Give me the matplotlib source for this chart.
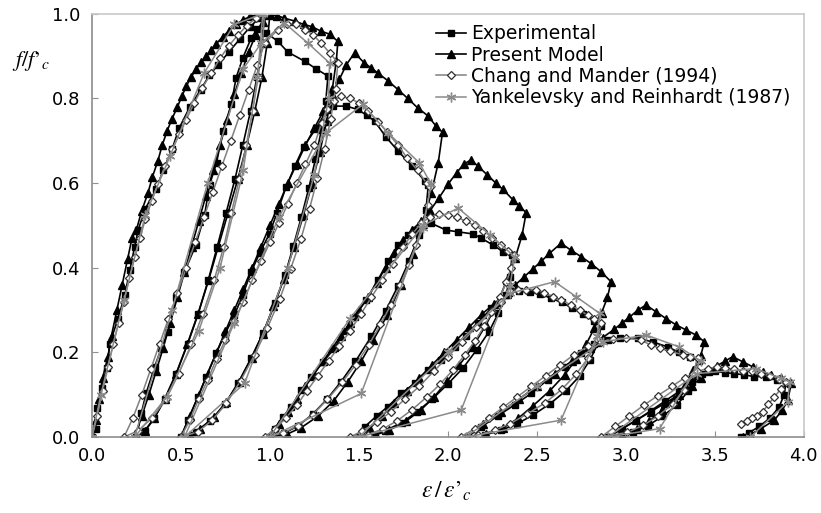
import matplotlib.pyplot as plt

plt.rcParams["font.family"] = ["DejaVu Sans"]
plt.rcParams["mathtext.fontset"] = "stix"

# (strain ratio, stress ratio) along each loading path
experimental = [
    (0.0, 0.0), (0.02, 0.02), (0.03, 0.068), (0.054, 0.115), (0.083, 0.163), (0.1, 0.22),
    (0.146, 0.28), (0.185, 0.335), (0.213, 0.395), (0.24, 0.45), (0.26, 0.49), (0.3, 0.54),
    (0.36, 0.585), (0.4, 0.63), (0.45, 0.68), (0.49, 0.73), (0.55, 0.78), (0.61, 0.82),
    (0.66, 0.855), (0.71, 0.88), (0.77, 0.91), (0.83, 0.94), (0.89, 0.97), (0.94, 0.99),
    (0.97, 1.0),
    (0.956, 0.93), (0.927, 0.85), (0.891, 0.77), (0.848, 0.69), (0.804, 0.61), (0.754, 0.53),
    (0.704, 0.45), (0.653, 0.37), (0.596, 0.29), (0.538, 0.22), (0.473, 0.15), (0.408, 0.09),
    (0.351, 0.045), (0.3, 0.015), (0.25, 0.0),
    (0.277, 0.056), (0.305, 0.104), (0.352, 0.166), (0.39, 0.21), (0.427, 0.249), (0.474, 0.332),
    (0.52, 0.39), (0.584, 0.454), (0.633, 0.525), (0.661, 0.596), (0.7, 0.648), (0.736, 0.723),
    (0.783, 0.786), (0.81, 0.849), (0.848, 0.896), (0.895, 0.943), (0.93, 0.965), (0.98, 0.955),
    (1.045, 0.935), (1.1, 0.91), (1.195, 0.888), (1.26, 0.87), (1.326, 0.853),
    (1.314, 0.793), (1.289, 0.725), (1.256, 0.657), (1.219, 0.589), (1.177, 0.52), (1.132, 0.452),
    (1.086, 0.384), (1.029, 0.316), (0.963, 0.247), (0.896, 0.188), (0.822, 0.128), (0.748, 0.077),
    (0.665, 0.038), (0.583, 0.013), (0.5, 0.0),
    (0.539, 0.04), (0.596, 0.095), (0.642, 0.143), (0.698, 0.198), (0.745, 0.241), (0.8, 0.288),
    (0.848, 0.336), (0.895, 0.391), (0.942, 0.434), (0.998, 0.481), (1.04, 0.53), (1.09, 0.59),
    (1.14, 0.64), (1.19, 0.686), (1.26, 0.73), (1.32, 0.773), (1.354, 0.782), (1.43, 0.782),
    (1.494, 0.774), (1.545, 0.76), (1.59, 0.746), (1.65, 0.71), (1.72, 0.676), (1.8, 0.64),
    (1.87, 0.605), (1.89, 0.596),
    (1.877, 0.536), (1.837, 0.477), (1.783, 0.417), (1.721, 0.358), (1.65, 0.298), (1.57, 0.238),
    (1.481, 0.179), (1.4, 0.131), (1.32, 0.089), (1.24, 0.054), (1.16, 0.027), (1.08, 0.009),
    (1.0, 0.0),
    (1.026, 0.02), (1.073, 0.048), (1.12, 0.07), (1.176, 0.111), (1.232, 0.143), (1.3, 0.178),
    (1.363, 0.21), (1.42, 0.25), (1.476, 0.284), (1.541, 0.324), (1.607, 0.371), (1.663, 0.415),
    (1.72, 0.454), (1.775, 0.478), (1.813, 0.489), (1.85, 0.501), (1.908, 0.505), (1.99, 0.489),
    (2.058, 0.485), (2.14, 0.48), (2.187, 0.47), (2.253, 0.454), (2.31, 0.438), (2.36, 0.43),
    (2.351, 0.378), (2.326, 0.335), (2.283, 0.292), (2.231, 0.249), (2.162, 0.206), (2.085, 0.163),
    (1.999, 0.125), (1.913, 0.09), (1.827, 0.06), (1.741, 0.034), (1.646, 0.015), (1.569, 0.004),
    (1.5, 0.0),
    (1.532, 0.024), (1.6, 0.05), (1.663, 0.072), (1.738, 0.103), (1.813, 0.127), (1.888, 0.158),
    (1.963, 0.182), (2.038, 0.213), (2.1, 0.24), (2.17, 0.27), (2.243, 0.304), (2.3, 0.325),
    (2.346, 0.34), (2.4, 0.345), (2.46, 0.343), (2.52, 0.338), (2.58, 0.328), (2.64, 0.318),
    (2.7, 0.305), (2.76, 0.29), (2.82, 0.275), (2.86, 0.262),
    (2.845, 0.223), (2.8, 0.183), (2.74, 0.144), (2.665, 0.11), (2.575, 0.079), (2.478, 0.052),
    (2.388, 0.031), (2.298, 0.016), (2.208, 0.005), (2.11, 0.0),
    (2.187, 0.024), (2.28, 0.05), (2.375, 0.076), (2.468, 0.103), (2.56, 0.135), (2.656, 0.166),
    (2.75, 0.198), (2.824, 0.221), (2.9, 0.23), (2.97, 0.233), (3.067, 0.233), (3.15, 0.225),
    (3.236, 0.213), (3.3, 0.2), (3.36, 0.19), (3.41, 0.18),
    (3.39, 0.144), (3.349, 0.108), (3.288, 0.076), (3.206, 0.049), (3.124, 0.027), (3.038, 0.011),
    (2.9, 0.0),
    (2.98, 0.02), (3.06, 0.04), (3.14, 0.062), (3.22, 0.085), (3.3, 0.108), (3.37, 0.13),
    (3.43, 0.148), (3.5, 0.155), (3.56, 0.152), (3.61, 0.15), (3.665, 0.147), (3.72, 0.143),
    (3.79, 0.143), (3.85, 0.136), (3.9, 0.128),
    (3.89, 0.1), (3.86, 0.07), (3.81, 0.045), (3.75, 0.025), (3.69, 0.01), (3.65, 0.0),
]

present_model = [
    (0.0, 0.0), (0.02, 0.04), (0.04, 0.09), (0.06, 0.14), (0.09, 0.19), (0.11, 0.24), (0.14, 0.3),
    (0.17, 0.36), (0.2, 0.42), (0.225, 0.47), (0.25, 0.49), (0.28, 0.535), (0.315, 0.577),
    (0.34, 0.615), (0.37, 0.652), (0.395, 0.69), (0.423, 0.724), (0.45, 0.752), (0.479, 0.779),
    (0.505, 0.805), (0.53, 0.829), (0.556, 0.85), (0.586, 0.87), (0.612, 0.886), (0.642, 0.9),
    (0.67, 0.915), (0.698, 0.929), (0.735, 0.946), (0.77, 0.96), (0.81, 0.975), (0.85, 0.986),
    (0.89, 0.994), (0.93, 0.999), (0.97, 1.0), (1.0, 1.0),
    (0.985, 0.93), (0.955, 0.85), (0.915, 0.77), (0.87, 0.69), (0.82, 0.61), (0.765, 0.53),
    (0.71, 0.45), (0.655, 0.37), (0.595, 0.29), (0.536, 0.22), (0.474, 0.15), (0.411, 0.09),
    (0.351, 0.045), (0.296, 0.015), (0.24, 0.0),
    (0.28, 0.05), (0.32, 0.1), (0.36, 0.155), (0.4, 0.21), (0.44, 0.27), (0.48, 0.33), (0.52, 0.39),
    (0.56, 0.45), (0.6, 0.51), (0.64, 0.57), (0.68, 0.63), (0.72, 0.69), (0.76, 0.75), (0.8, 0.81),
    (0.84, 0.86), (0.88, 0.91), (0.92, 0.95), (0.96, 0.98), (1.0, 0.997),
    (1.04, 0.996), (1.08, 0.99), (1.139, 0.983), (1.19, 0.975), (1.234, 0.97), (1.288, 0.959),
    (1.335, 0.952), (1.382, 0.935),
    (1.373, 0.888), (1.351, 0.823), (1.32, 0.748), (1.28, 0.673), (1.236, 0.598), (1.188, 0.524),
    (1.135, 0.449), (1.078, 0.374), (1.02, 0.309), (0.959, 0.243), (0.897, 0.187), (0.826, 0.131),
    (0.756, 0.084), (0.685, 0.047), (0.606, 0.019), (0.55, 0.005), (0.5, 0.0),
    (0.55, 0.05), (0.6, 0.1), (0.65, 0.15), (0.7, 0.2), (0.75, 0.25), (0.8, 0.3), (0.85, 0.35),
    (0.9, 0.4), (0.95, 0.45), (1.0, 0.5), (1.05, 0.55), (1.1, 0.6), (1.15, 0.645), (1.2, 0.69),
    (1.25, 0.73), (1.3, 0.77), (1.35, 0.81), (1.39, 0.845), (1.43, 0.88), (1.476, 0.908),
    (1.53, 0.884), (1.57, 0.872), (1.607, 0.86), (1.663, 0.842), (1.72, 0.821), (1.775, 0.8),
    (1.83, 0.778), (1.888, 0.759), (1.933, 0.735), (1.97, 0.72),
    (1.946, 0.648), (1.907, 0.576), (1.858, 0.504), (1.805, 0.432), (1.737, 0.36), (1.66, 0.288),
    (1.582, 0.23), (1.514, 0.18), (1.437, 0.13), (1.359, 0.086), (1.272, 0.05), (1.175, 0.022),
    (1.097, 0.007), (1.0, 0.0),
    (1.05, 0.03), (1.1, 0.06), (1.15, 0.09), (1.2, 0.12), (1.25, 0.15), (1.3, 0.18), (1.35, 0.21),
    (1.4, 0.24), (1.45, 0.27), (1.5, 0.3), (1.55, 0.33), (1.6, 0.365), (1.65, 0.4), (1.7, 0.435),
    (1.75, 0.465), (1.8, 0.49), (1.85, 0.51), (1.9, 0.535), (1.95, 0.565), (2.0, 0.597),
    (2.05, 0.625), (2.09, 0.645), (2.13, 0.655),
    (2.17, 0.64), (2.22, 0.62), (2.27, 0.6), (2.31, 0.585), (2.365, 0.561), (2.4, 0.547),
    (2.44, 0.53),
    (2.417, 0.477), (2.379, 0.424), (2.332, 0.371), (2.28, 0.318), (2.214, 0.265), (2.139, 0.212),
    (2.064, 0.17), (1.998, 0.133), (1.923, 0.095), (1.848, 0.064), (1.763, 0.037), (1.669, 0.016),
    (1.594, 0.005), (1.5, 0.0),
    (1.56, 0.02), (1.63, 0.05), (1.7, 0.08), (1.77, 0.11), (1.84, 0.14), (1.91, 0.17), (1.98, 0.2),
    (2.05, 0.23), (2.12, 0.26), (2.19, 0.29), (2.26, 0.315), (2.33, 0.338), (2.38, 0.36),
    (2.43, 0.379), (2.48, 0.398), (2.524, 0.415), (2.571, 0.434), (2.636, 0.458),
    (2.69, 0.442), (2.75, 0.426), (2.805, 0.41), (2.86, 0.391), (2.917, 0.367),
    (2.897, 0.33), (2.864, 0.294), (2.823, 0.257), (2.778, 0.22), (2.721, 0.184), (2.656, 0.147),
    (2.574, 0.11), (2.476, 0.073), (2.394, 0.044), (2.312, 0.022), (2.214, 0.007), (2.1, 0.0),
    (2.2, 0.03), (2.3, 0.06), (2.4, 0.09), (2.5, 0.12), (2.6, 0.15), (2.7, 0.18), (2.8, 0.21),
    (2.87, 0.235), (2.936, 0.255), (2.98, 0.27), (3.02, 0.283), (3.067, 0.3), (3.114, 0.312),
    (3.17, 0.296), (3.226, 0.28), (3.283, 0.265), (3.339, 0.253), (3.395, 0.241), (3.442, 0.225),
    (3.42, 0.191), (3.38, 0.158), (3.334, 0.124), (3.269, 0.09), (3.204, 0.063), (3.133, 0.038),
    (3.063, 0.018), (2.976, 0.005), (2.9, 0.0),
    (2.98, 0.02), (3.06, 0.04), (3.14, 0.06), (3.22, 0.08), (3.3, 0.1), (3.37, 0.12), (3.42, 0.14),
    (3.46, 0.155), (3.51, 0.168), (3.56, 0.18), (3.6, 0.19),
    (3.657, 0.178), (3.713, 0.166), (3.77, 0.154), (3.816, 0.147), (3.87, 0.139), (3.93, 0.127),
    (3.91, 0.087), (3.88, 0.064), (3.835, 0.04), (3.76, 0.02), (3.7, 0.006), (3.657, 0.0),
]

chang_mander = [
    (0.0, 0.0), (0.03, 0.05), (0.06, 0.11), (0.09, 0.165), (0.12, 0.22), (0.15, 0.27), (0.18, 0.32),
    (0.21, 0.375), (0.24, 0.425), (0.27, 0.47), (0.3, 0.515), (0.335, 0.557), (0.37, 0.597),
    (0.41, 0.64), (0.45, 0.68), (0.49, 0.715), (0.53, 0.75), (0.575, 0.79), (0.62, 0.825),
    (0.67, 0.86), (0.72, 0.895), (0.77, 0.925), (0.82, 0.95), (0.87, 0.972), (0.92, 0.99),
    (0.97, 1.0),
    (0.958, 0.93), (0.934, 0.85), (0.903, 0.77), (0.867, 0.69), (0.828, 0.61), (0.784, 0.53),
    (0.741, 0.45), (0.686, 0.37), (0.622, 0.29), (0.559, 0.22), (0.488, 0.15), (0.417, 0.09),
    (0.338, 0.045), (0.259, 0.015), (0.18, 0.0),
    (0.23, 0.045), (0.28, 0.1), (0.33, 0.16), (0.38, 0.22), (0.43, 0.28), (0.48, 0.34), (0.53, 0.4),
    (0.58, 0.46), (0.63, 0.52), (0.68, 0.58), (0.73, 0.64), (0.78, 0.7), (0.83, 0.76), (0.88, 0.82),
    (0.93, 0.88), (0.97, 0.93), (1.045, 0.963), (1.095, 0.975), (1.148, 0.975), (1.195, 0.963),
    (1.24, 0.951), (1.288, 0.931), (1.335, 0.908), (1.382, 0.885),
    (1.369, 0.823), (1.342, 0.752), (1.307, 0.681), (1.267, 0.611), (1.223, 0.54), (1.175, 0.469),
    (1.117, 0.398), (1.056, 0.327), (0.985, 0.257), (0.915, 0.195), (0.835, 0.133), (0.756, 0.08),
    (0.676, 0.04), (0.597, 0.013), (0.5, 0.0),
    (0.55, 0.04), (0.6, 0.09), (0.65, 0.135), (0.7, 0.185), (0.75, 0.23), (0.8, 0.275), (0.85, 0.32),
    (0.9, 0.37), (0.95, 0.415), (1.0, 0.46), (1.05, 0.505), (1.1, 0.55), (1.15, 0.6), (1.2, 0.645),
    (1.25, 0.69), (1.29, 0.742), (1.32, 0.775), (1.36, 0.795), (1.4, 0.805), (1.45, 0.8),
    (1.5, 0.79), (1.55, 0.77), (1.61, 0.745), (1.66, 0.72), (1.72, 0.69), (1.77, 0.66),
    (1.83, 0.63), (1.88, 0.6), (1.9, 0.59),
    (1.886, 0.549), (1.858, 0.502), (1.821, 0.454), (1.779, 0.407), (1.733, 0.36), (1.681, 0.313),
    (1.621, 0.266), (1.556, 0.218), (1.482, 0.171), (1.407, 0.13), (1.323, 0.089), (1.24, 0.053),
    (1.156, 0.027), (1.072, 0.009), (0.97, 0.0),
    (1.03, 0.02), (1.09, 0.045), (1.15, 0.075), (1.21, 0.11), (1.27, 0.145), (1.33, 0.18),
    (1.39, 0.215), (1.45, 0.25), (1.51, 0.29), (1.57, 0.33), (1.63, 0.37), (1.69, 0.41),
    (1.75, 0.45), (1.8, 0.48), (1.85, 0.505), (1.9, 0.52), (1.95, 0.527), (2.0, 0.525),
    (2.05, 0.52), (2.1, 0.51), (2.15, 0.5), (2.2, 0.488), (2.25, 0.47), (2.3, 0.455), (2.34, 0.44),
    (2.37, 0.43),
    (2.356, 0.4), (2.329, 0.366), (2.292, 0.331), (2.25, 0.297), (2.204, 0.262), (2.154, 0.228),
    (2.094, 0.194), (2.03, 0.159), (1.956, 0.125), (1.882, 0.095), (1.8, 0.065), (1.717, 0.039),
    (1.634, 0.019), (1.551, 0.006), (1.45, 0.0),
    (1.52, 0.015), (1.6, 0.035), (1.68, 0.06), (1.76, 0.09), (1.84, 0.12), (1.92, 0.155),
    (2.0, 0.19), (2.08, 0.225), (2.16, 0.26), (2.24, 0.295), (2.3, 0.32), (2.35, 0.345),
    (2.393, 0.348), (2.44, 0.348), (2.496, 0.348), (2.543, 0.34), (2.59, 0.332), (2.637, 0.324),
    (2.693, 0.312), (2.74, 0.3), (2.787, 0.288), (2.824, 0.28), (2.861, 0.269),
    (2.841, 0.229), (2.79, 0.188), (2.72, 0.148), (2.641, 0.113), (2.547, 0.081), (2.444, 0.054),
    (2.35, 0.032), (2.264, 0.016), (2.169, 0.005), (2.075, 0.0),
    (2.15, 0.02), (2.23, 0.045), (2.31, 0.07), (2.39, 0.095), (2.47, 0.12), (2.55, 0.145),
    (2.63, 0.17), (2.71, 0.195), (2.79, 0.215), (2.86, 0.225), (2.93, 0.232), (3.0, 0.234),
    (3.086, 0.229), (3.142, 0.217), (3.19, 0.21), (3.25, 0.203), (3.32, 0.194), (3.36, 0.19),
    (3.404, 0.186),
    (3.377, 0.149), (3.328, 0.112), (3.263, 0.078), (3.181, 0.05), (3.099, 0.028), (3.007, 0.011),
    (2.86, 0.0),
    (2.94, 0.025), (3.02, 0.05), (3.1, 0.075), (3.18, 0.098), (3.26, 0.12), (3.33, 0.14),
    (3.4, 0.155), (3.46, 0.162), (3.51, 0.165), (3.56, 0.163), (3.61, 0.16), (3.66, 0.157),
    (3.71, 0.155), (3.76, 0.15), (3.81, 0.145), (3.86, 0.138), (3.9, 0.13),
    (3.87, 0.113), (3.835, 0.095), (3.8, 0.077), (3.77, 0.06), (3.74, 0.05), (3.71, 0.044),
    (3.68, 0.037), (3.645, 0.03),
]

yankelevsky = [
    (0.0, 0.0), (0.05, 0.1), (0.18, 0.324), (0.3, 0.525), (0.44, 0.665), (0.63, 0.86),
    (0.8, 0.975), (0.96, 1.0),
    (0.93, 0.85), (0.85, 0.63), (0.72, 0.4), (0.6, 0.25), (0.42, 0.095), (0.24, 0.0),
    (0.45, 0.3), (0.65, 0.6), (0.85, 0.87), (0.95, 0.93), (1.08, 0.979), (1.213, 0.931),
    (1.335, 0.884),
    (1.33, 0.8), (1.25, 0.62), (1.1, 0.4), (0.858, 0.127), (0.52, 0.0),
    (0.8, 0.27), (1.05, 0.52), (1.316, 0.719), (1.522, 0.786), (1.663, 0.719), (1.84, 0.648),
    (1.906, 0.597),
    (1.86, 0.493), (1.513, 0.103), (1.0, 0.0),
    (1.45, 0.28), (1.86, 0.5), (2.058, 0.541), (2.236, 0.478), (2.376, 0.426),
    (2.35, 0.36), (2.075, 0.064), (1.5, 0.0),
    (2.0, 0.2), (2.35, 0.34), (2.6, 0.367), (2.72, 0.332), (2.854, 0.292),
    (2.84, 0.24), (2.636, 0.04), (2.1, 0.0),
    (2.5, 0.12), (2.87, 0.225), (3.116, 0.241), (3.3, 0.213), (3.42, 0.18),
    (3.19, 0.02), (2.9, 0.0),
    (3.4, 0.15), (3.73, 0.162), (3.87, 0.139), (3.92, 0.131), (3.91, 0.083), (3.7, 0.0),
]

series_labels = ["Experimental", "Present Model", "Chang and Mander (1994)",
                 "Yankelevsky and Reinhardt (1987)"]

fig = plt.figure(figsize=(8.21, 5.13), dpi=100)
ax = fig.add_axes([0.112, 0.148, 0.867, 0.825])

styles = [
    dict(color="black", lw=1.2, marker="s", ms=4.3, mfc="black", mec="black"),
    dict(color="black", lw=1.2, marker="^", ms=5.5, mfc="black", mec="black"),
    dict(color="#808080", lw=1.1, marker="D", ms=4.0, mfc="white", mec="#303030", mew=0.9),
    dict(color="#8a8a8a", lw=1.1, marker=(6, 2, 0), ms=7, mec="#8a8a8a", mew=1.0),
]
for pts, label, st in zip([experimental, present_model, chang_mander, yankelevsky],
                          series_labels, styles):
    xs = [p[0] for p in pts]
    ys = [p[1] for p in pts]
    ax.plot(xs, ys, label=label, **st)

ax.set_xlim(0, 4.0)
ax.set_ylim(0, 1.0)
ax.set_xticks([0, 0.5, 1.0, 1.5, 2.0, 2.5, 3.0, 3.5, 4.0])
ax.set_yticks([0, 0.2, 0.4, 0.6, 0.8, 1.0])
ax.set_xticklabels(["0.0", "0.5", "1.0", "1.5", "2.0", "2.5", "3.0", "3.5", "4.0"])
ax.set_yticklabels(["0.0", "0.2", "0.4", "0.6", "0.8", "1.0"])
ax.tick_params(axis="both", direction="in", length=4, color="#909090", labelsize=13)
ax.tick_params(axis="y", pad=8.5)
ax.tick_params(axis="x", pad=7)
for side in ["left", "bottom"]:
    ax.spines[side].set_color("#8c8c8c")
    ax.spines[side].set_linewidth(1.2)
for side in ["top", "right"]:
    ax.spines[side].set_color("#c8c8c8")
    ax.spines[side].set_linewidth(1.2)

ax.legend(loc="upper left", bbox_to_anchor=(0.483, 0.975), frameon=False, fontsize=13.5,
          handlelength=1.6, handletextpad=0.3, labelspacing=0.12, borderpad=0,
          borderaxespad=0)

fig.text(0.543, 0.03, "$\\varepsilon\\,/\\,\\varepsilon\u2019_c$", fontsize=17, ha="center")
fig.text(0.038, 0.882, "$f/f\u2019_c$", fontsize=16, ha="center", va="center")

fig.savefig("out.png", dpi=100)
plt.close(fig)
